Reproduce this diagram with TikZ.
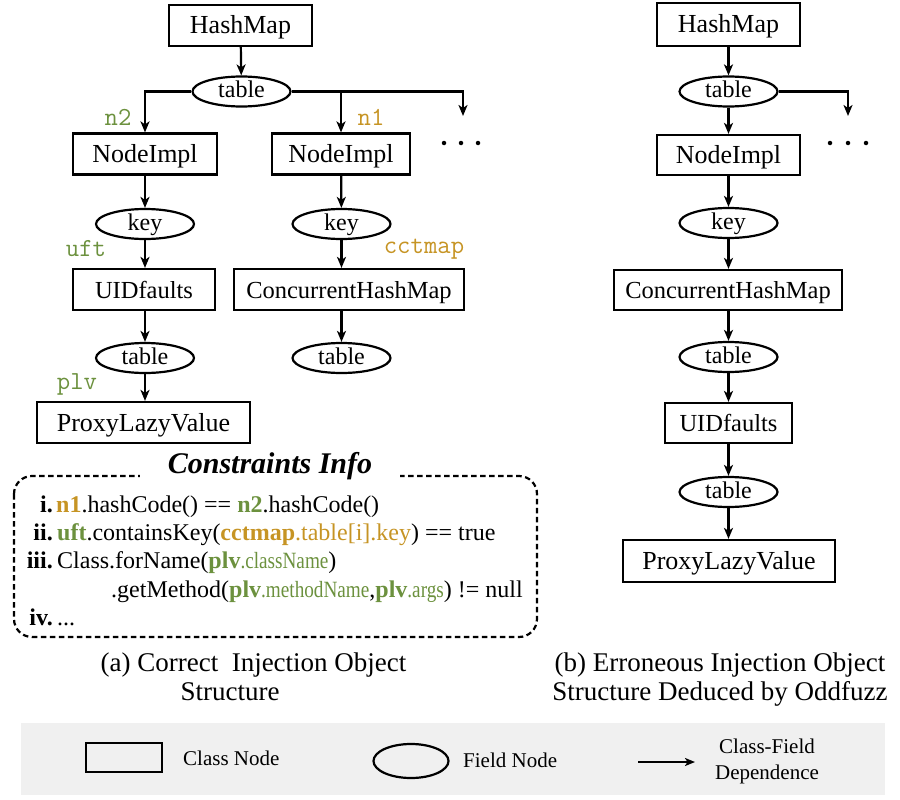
\documentclass[tikz,border=0pt]{standalone}
\usepackage{fontspec}
\usepackage{graphicx}
\setmainfont{Liberation Serif}
\usetikzlibrary{shapes.geometric,arrows.meta}
\definecolor{cgreen}{RGB}{108,145,62}
\definecolor{cgold}{RGB}{198,148,36}
\definecolor{legendgray}{RGB}{240,240,240}
\newcommand{\narrowtxt}[1]{\scalebox{0.8}[0.97]{#1}}
\begin{document}
\begin{tikzpicture}[x=1pt,y=-1pt,
  cls/.style={draw, line width=2.2pt, rectangle, inner sep=0pt, minimum height=41pt,
    text height=18pt, text depth=1pt, font=\fontsize{26}{30}\selectfont},
  smallcls/.style={font=\fontsize{24.5}{28}\selectfont},
  fld/.style={draw, line width=2.2pt, ellipse, inner sep=0pt, minimum width=98pt,
    minimum height=30pt, text height=13pt, text depth=0pt, font=\fontsize{24}{28}\selectfont},
  dep/.style={line width=2.2pt, -{Stealth[length=11pt,width=9pt,inset=3pt]}},
  varlab/.style={font=\ttfamily\fontsize{26}{30}\selectfont, inner sep=0pt},
  clab/.style={anchor=base east, inner sep=0pt, font=\bfseries\fontsize{24}{28}\selectfont},
  ctxt/.style={anchor=base west, inner sep=0pt, font=\fontsize{24}{28}\selectfont},
  capt/.style={anchor=base, inner sep=0pt, font=\fontsize{27}{31}\selectfont},
  legt/.style={inner sep=0pt, font=\fontsize{21}{25}\selectfont},
  dot/.style={fill=black, circle, inner sep=0pt, minimum size=4.5pt}
]
\useasboundingbox (0,0) rectangle (900,800);

% ---------------- left tree ----------------
\node[cls, minimum width=143pt] (lhm) at (240.5,25.5) {HashMap};
\node[fld] (ltab) at (241.5,91.5) {table};
\node[cls, minimum width=144pt] (lni1) at (145,154) {NodeImpl};
\node[cls, minimum width=138pt] (lni2) at (341,154) {NodeImpl};
\node[fld] (lkey1) at (145,224) {key};
\node[fld] (lkey2) at (341.5,224) {key};
\node[cls, smallcls, minimum width=142pt] (luid) at (144,289.5) {UIDfaults};
\node[cls, smallcls, minimum width=230pt] (lchm) at (349,289.5) {ConcurrentHashMap};
\node[fld] (ltab1) at (145,358) {table};
\node[fld] (ltab2) at (341.5,358) {table};
\node[cls, minimum width=213pt] (lplv) at (143.5,422.5) {ProxyLazyValue};

\coordinate (lmore) at (463,116);
\node[dot] (ld1) at (444,143) {};
\node[dot] (ld2) at (461,143) {};
\node[dot] (ld3) at (478,143) {};

\node[varlab, text=cgreen] (ln2) at (118,117) {n2};
\node[varlab, text=cgold] (ln1) at (371,117) {n1};
\node[varlab, text=cgreen] (luft) at (86,249) {uft};
\node[varlab, text=cgold] (lcct) at (424,249) {cctmap};
\node[varlab, text=cgreen] (lplvl) at (77,384) {plv};

\draw[dep] (lhm) -- (ltab);
\draw[dep] (ltab.west) -| (lni1.north);
\draw[dep] (ltab.east) -| (lni2.north);
\draw[dep] (ltab.east) -| (lmore);
\draw[dep] (lni1) -- (lkey1);
\draw[dep] (lni2) -- (lkey2);
\draw[dep] (lkey1) -- (lkey1 |- luid.north);
\draw[dep] (lkey2) -- (lkey2 |- lchm.north);
\draw[dep] (ltab1 |- luid.south) -- (ltab1);
\draw[dep] (ltab2 |- lchm.south) -- (ltab2);
\draw[dep] (ltab1) -- (ltab1 |- lplv.north);

% ---------------- right tree ----------------
\node[cls, minimum width=143pt, minimum height=43pt] (rhm) at (728.5,24.5) {HashMap};
\node[fld] (rtab) at (728.5,91.5) {table};
\node[cls, minimum width=143pt, minimum height=40pt] (rni) at (728.5,155) {NodeImpl};
\node[fld] (rkey) at (728.5,223) {key};
\node[cls, smallcls, minimum width=228pt, minimum height=40pt] (rchm) at (728,290) {ConcurrentHashMap};
\node[fld] (rtab2) at (728.5,357) {table};
\node[cls, smallcls, minimum width=127pt, minimum height=40pt] (ruid) at (728.5,423) {UIDfaults};
\node[fld] (rtab3) at (728.5,492) {table};
\node[cls, minimum width=212pt, minimum height=42pt] (rplv) at (729,561) {ProxyLazyValue};

\coordinate (rmore) at (848,116);
\node[dot] (rd1) at (830,143) {};
\node[dot] (rd2) at (848,143) {};
\node[dot] (rd3) at (866,143) {};

\draw[dep] (rhm) -- (rtab);
\draw[dep] (rtab.east) -| (rmore);
\draw[dep] (rtab) -- (rni);
\draw[dep] (rni) -- (rkey);
\draw[dep] (rkey) -- (rkey |- rchm.north);
\draw[dep] (rtab2 |- rchm.south) -- (rtab2);
\draw[dep] (rtab2) -- (ruid);
\draw[dep] (ruid) -- (rtab3);
\draw[dep] (rtab3) -- (rtab3 |- rplv.north);

% ---------------- constraints box ----------------
\draw[line width=2.2pt, dash pattern=on 5.5pt off 3.5pt, rounded corners=18pt] (14,476) rectangle (537,637);
\node[fill=white, minimum width=260pt, inner ysep=2pt, font=\bfseries\itshape\fontsize{30}{34}\selectfont] (ctitle) at (270,466) {Constraints Info};

\node[clab] (c1l) at (53,512) {i.};
\node[ctxt] (c1t) at (56,512) {\textcolor{cgold}{\textbf{n1}}.hashCode() == \textcolor{cgreen}{\textbf{n2}}.hashCode()};
\node[clab] (c2l) at (53,540) {ii.};
\node[ctxt] (c2t) at (57,540) {\textcolor{cgreen}{\textbf{uft}}.containsKey(\textcolor{cgold}{\textbf{cctmap}.table[i].key}) == true};
\node[clab] (c3l) at (53,568) {iii.};
\node[ctxt] (c3t) at (57,568) {Class.forName(\textcolor{cgreen}{\textbf{plv}\narrowtxt{.className}})};
\node[ctxt] (c3u) at (111,597) {.getMethod(\textcolor{cgreen}{\textbf{plv}\narrowtxt{.methodName}},\textcolor{cgreen}{\textbf{plv}\narrowtxt{.args}}) != null};
\node[clab] (c4l) at (53,625) {iv.};
\node[ctxt] (c4t) at (57,625) {...};

% ---------------- captions ----------------
\node[capt] (capa1) at (253.5,671) {(a) Correct\ \ Injection Object};
\node[capt] (capa2) at (230,700) {Structure};
\node[capt] (capb1) at (720,671) {(b) Erroneous Injection Object};
\node[capt] (capb2) at (720,700) {Structure Deduced by Oddfuzz};

% ---------------- legend ----------------
\fill[legendgray] (21,723) rectangle (885,795);
\node[draw, line width=2.2pt, minimum width=76pt, minimum height=29pt, inner sep=0pt] (legcls) at (124,757.5) {};
\node[legt, anchor=west] (legclst) at (183,758) {Class Node};
\node[draw, ellipse, line width=2.2pt, minimum width=75pt, minimum height=34pt, inner sep=0pt] (legfld) at (411,761) {};
\node[legt, anchor=west] (legfldt) at (463,760) {Field Node};
\coordinate (legas) at (638,762);
\coordinate (legae) at (695,762);
\draw[line width=2.2pt, -{Stealth[length=10pt,width=8pt,inset=2.5pt]}] (legas) -- (legae);
\node[legt, align=center] (legdep) at (767,761) {Class-Field\\[1pt]Dependence};
\end{tikzpicture}
\end{document}
